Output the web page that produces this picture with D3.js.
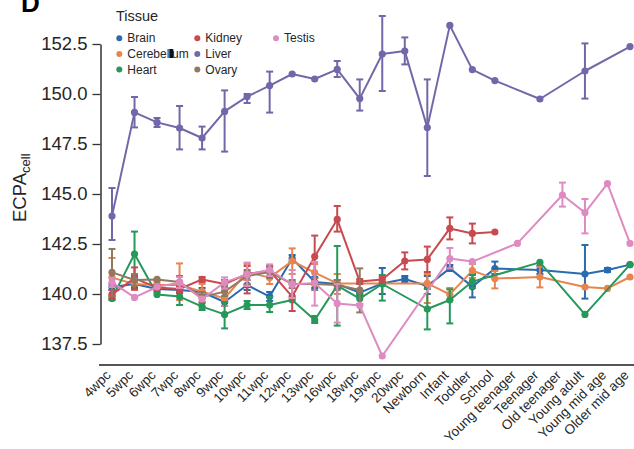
<!DOCTYPE html>
<html>
<head>
<meta charset="utf-8">
<script src="https://cdn.jsdelivr.net/npm/d3@7"></script>
<style>
  body { margin: 0; background: #fff; }
  text { font-family: "Liberation Sans", Arial, sans-serif; }
</style>
</head>
<body>
<script>
const categories = ['4wpc', '5wpc', '6wpc', '7wpc', '8wpc', '9wpc', '10wpc', '11wpc', '12wpc', '13wpc',
    '16wpc', '18wpc', '19wpc', '20wpc', 'Newborn', 'Infant', 'Toddler', 'School', 'Young teenager',
    'Teenager', 'Old teenager', 'Young adult', 'Young mid age', 'Older mid age'];
const tissues = ['Brain', 'Cerebellum', 'Heart', 'Kidney', 'Liver', 'Ovary', 'Testis'];
const colors = ['#2a6aaf', '#e8844e', '#25985a', '#c84a4f', '#7168a9', '#937860', '#de8bc1'];
const yTicks = [137.5, 140.0, 142.5, 145.0, 147.5, 150.0, 152.5];

// mean ECPA per stage, null = no sample
const brainMean = [140.35, 140.5, 140.25, 140.2, 140.1, 139.6, 140.45, 139.87, 141.78, 140.6, 140.5, 140.07,
    140.53, 140.75, 140.4, 141.28, 140.37, 141.27, null, 141.2, null, 141.0, 141.2, 141.47];
const cerebellumMean = [140.82, 140.5, 140.45, 140.45, 140.12, 139.78, 141.1, 140.82, 141.65, 141.07, 140.53, null,
    null, null, 140.53, 139.98, 141.17, 140.77, null, 140.85, null, 140.35, 140.28, 140.85];
const heartMean = [139.78, 142.0, 139.98, 139.87, 139.37, 138.98, 139.45, 139.45, 139.7, 138.7, 140.42, 139.77,
    140.5, null, 139.25, 139.7, 140.62, null, null, 141.58, null, 138.98, null, 141.47];
const kidneyMean = [139.98, 140.78, 140.33, 140.25, 140.73, 140.5, 141.0, 141.17, 139.87, 141.87, 143.73, 140.62,
    140.73, 141.65, 141.73, 143.28, 143.03, 143.1, null, null, null, null, null, null];
const liverMean = [143.9, 149.08, 148.58, 148.3, 147.8, 149.13, 149.87, 150.42, 151.0, 150.75, 151.23, 149.77,
    152.0, 152.15, 148.32, 153.43, 151.22, 150.67, null, 149.75, null, 151.15, null, 152.37];
const ovaryMean = [141.08, 140.7, 140.73, 140.6, 139.85, 140.12, 140.9, 141.1, 140.5, 140.5, 140.45, 140.2,
    null, null, null, null, null, null, null, null, null, null, null, null];
const testisMean = [140.58, 139.83, 140.35, 140.58, 139.75, 140.58, 140.98, 141.2, 140.48, 140.55, 139.53, 139.43,
    136.9, null, null, 141.77, 141.62, null, 142.53, null, 144.95, 144.07, 145.52, 142.53];

// confidence intervals [low, high], null = no bar
const brainCI = [[140.2, 140.5], [140.3, 140.7], [140.1, 140.4], [140.05, 140.35], [139.9, 140.3], [139.4, 139.85],
    [140.2, 140.7], [139.65, 140.1], [141.6, 141.95], [140.3, 140.85], [140.25, 140.7], [139.95, 140.2],
    [140.0, 141.3], [140.6, 140.9], [140.0, 140.9], [141.15, 141.45], [139.83, 141.0], [141.0, 141.62],
    null, [141.0, 141.4], null, [139.77, 142.45], [141.1, 141.3], null];
const cerebellumCI = [[139.9, 141.8], [140.2, 140.8], [140.3, 140.6], [139.7, 141.53], [139.8, 140.5], [139.4, 140.3],
    [140.7, 141.5], [140.5, 141.1], [141.0, 142.28], [140.6, 141.5], [140.0, 141.0], null,
    null, null, [139.55, 141.0], [139.7, 140.3], [140.8, 141.5], [140.28, 141.15],
    null, [140.33, 141.37], null, null, null, null];
const heartCI = [[139.7, 139.9], [140.9, 143.12], null, [139.45, 140.15], [139.2, 139.55], [138.28, 139.6],
    [139.25, 139.65], [139.1, 139.85], null, [138.55, 138.9], [138.42, 142.4], [139.5, 140.0],
    [139.67, 140.95], null, [138.23, 140.25], [138.53, 140.23], [140.3, 140.95], null,
    null, null, null, null, null, null];
const kidneyCI = [[139.75, 140.2], [140.23, 141.33], [140.2, 140.45], [140.1, 140.4], [140.6, 140.85], [140.3, 140.7],
    [140.03, 141.4], [140.9, 141.4], [139.15, 140.6], [140.8, 142.92], [143.12, 144.4], [140.5, 140.75],
    [140.6, 140.85], [141.23, 142.08], [141.1, 142.37], [142.73, 143.83], [142.53, 143.52], null,
    null, null, null, null, null, null];
const liverCI = [[142.7, 145.3], [148.33, 149.85], [148.35, 148.8], [147.23, 149.4], [147.23, 148.37], [147.12, 150.18],
    [149.55, 150.0], [149.07, 151.12], null, null, [150.85, 151.65], [149.17, 150.73],
    [150.15, 153.9], [151.48, 152.83], [145.9, 150.73], null, null, null,
    null, null, null, [149.77, 152.53], null, null];
const ovaryCI = [[139.9, 142.25], [140.4, 141.0], null, [140.3, 140.9], [139.6, 140.1], [139.9, 140.35],
    [140.5, 141.2], [140.8, 141.35], [140.3, 140.7], [140.2, 140.8], [140.2, 140.7], [139.08, 141.28],
    null, null, null, null, null, null, null, null, null, null, null, null];
const testisCI = [[140.35, 140.8], null, null, [140.3, 140.85], null, [140.27, 140.83],
    [140.4, 141.57], [140.9, 141.48], [139.8, 141.2], [139.42, 141.6], [138.57, 140.5], null,
    null, null, null, [141.28, 142.3], null, null,
    null, null, [144.37, 145.57], [143.03, 144.75], null, null];

const means = [brainMean, cerebellumMean, heartMean, kidneyMean, liverMean, ovaryMean, testisMean];
const cis = [brainCI, cerebellumCI, heartCI, kidneyCI, liverCI, ovaryCI, testisCI];

const width = 634, height = 449;
const svg = d3.select('body').append('svg').attr('width', width).attr('height', height);

const x = d3.scalePoint().domain(categories).range([112, 630]);
const y = d3.scaleLinear().domain([137.5, 152.5]).range([344, 44]);

// panel letter (clipped at the top edge, as in the figure panel)
svg.append('text').attr('x', 21).attr('y', 12)
    .style('font-size', '26px').style('font-weight', 'bold').text('D');

// y axis
const yAxis = svg.append('g').attr('transform', 'translate(100.5,0)')
    .call(d3.axisLeft(y).tickValues(yTicks).tickFormat(d3.format('.1f'))
        .tickSize(8).tickPadding(5).tickSizeOuter(0));
yAxis.select('.domain').attr('stroke', '#333').attr('stroke-width', 1.5);
yAxis.selectAll('.tick line').attr('stroke', '#333').attr('stroke-width', 1.3);
yAxis.selectAll('.tick text').style('font-size', '18.5px').attr('fill', '#262626');

// y label with subscript
const yLabel = svg.append('text').attr('transform', 'translate(25.5,222) rotate(-90)')
    .style('font-size', '18.5px').attr('fill', '#262626');
yLabel.append('tspan').text('ECPA');
yLabel.append('tspan').attr('dy', 4).style('font-size', '13px').text('cell');

// x axis
const xAxis = svg.append('g').attr('transform', 'translate(0,365)')
    .call(d3.axisBottom(x).tickSize(0));
xAxis.select('.domain').remove();
xAxis.append('line').attr('x1', 99).attr('x2', 634).attr('y1', 0).attr('y2', 0)
    .attr('stroke', '#555').attr('stroke-width', 2);
xAxis.selectAll('.tick text')
    .attr('x', 0).attr('y', 0).attr('dy', 0)
    .attr('text-anchor', 'end')
    .attr('transform', 'translate(-1,11) rotate(-45)')
    .style('font-size', '13.5px').attr('fill', '#262626');

// series
const capHalf = 3.5;
tissues.forEach((tissue, t) => {
    const color = colors[t];
    const pts = categories.map((c, i) => ({cat: c, v: means[t][i], ci: cis[t][i]}))
        .filter(d => d.v != null);
    const g = svg.append('g').attr('class', 'series-' + tissue);

    const bars = pts.filter(d => d.ci);
    g.selectAll('line.err').data(bars).enter().append('line').attr('class', 'err')
        .attr('x1', d => x(d.cat)).attr('x2', d => x(d.cat))
        .attr('y1', d => y(d.ci[0])).attr('y2', d => y(d.ci[1]))
        .attr('stroke', color).attr('stroke-width', 2);
    ['lo', 'hi'].forEach((k, j) => {
        g.selectAll('line.cap' + k).data(bars).enter().append('line').attr('class', 'cap' + k)
            .attr('x1', d => x(d.cat) - capHalf).attr('x2', d => x(d.cat) + capHalf)
            .attr('y1', d => y(d.ci[j])).attr('y2', d => y(d.ci[j]))
            .attr('stroke', color).attr('stroke-width', 2);
    });

    const line = d3.line().x(d => x(d.cat)).y(d => y(d.v));
    g.append('path').datum(pts).attr('d', line)
        .attr('fill', 'none').attr('stroke', color).attr('stroke-width', 2)
        .attr('stroke-linejoin', 'round');

    g.selectAll('circle').data(pts).enter().append('circle')
        .attr('cx', d => x(d.cat)).attr('cy', d => y(d.v)).attr('r', 3.6)
        .attr('fill', color);
});

// legend
const legend = svg.append('g');
legend.append('text').attr('x', 116).attr('y', 20.7).style('font-size', '14.5px')
    .attr('fill', '#262626').text('Tissue');
const colX = [119.3, 197.3, 276];
const rowY = [42.3, 58, 73.6];
tissues.forEach((tissue, t) => {
    const cx = colX[Math.floor(t / 3)], ry = rowY[t % 3];
    legend.append('circle').attr('cx', cx).attr('cy', ry - 4).attr('r', 3).attr('fill', colors[t]);
    const txt = legend.append('text').attr('x', cx + 8).attr('y', ry)
        .style('font-size', '12px').attr('fill', '#262626').text(tissue);
    if (tissue === 'Cerebellum') {
        // the reference shows a filled block over one of the l glyphs
        const node = txt.node();
        const s = node.getStartPositionOfChar(7).x;
        legend.append('rect').attr('x', s).attr('y', ry - 9).attr('width', 4).attr('height', 9)
            .attr('fill', '#111');
    }
});
</script>
</body>
</html>
